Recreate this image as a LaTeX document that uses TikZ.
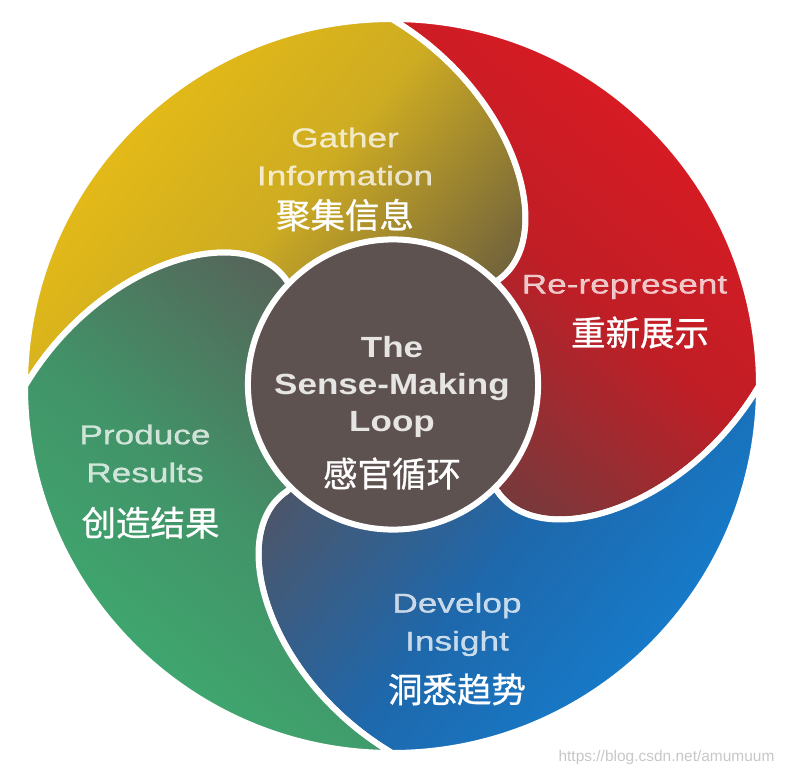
\documentclass[tikz,border=0pt]{standalone}
\usepackage{fontspec}
\setmainfont{Liberation Sans}
\newfontfamily\widefont[FakeStretch=1.3,FakeBold=0.8]{Liberation Sans}
\newfontfamily\widebold[FakeStretch=1.2]{Liberation Sans}
\newfontfamily\cjk[FakeBold=0.8]{Noto Sans CJK SC}
\usepackage{xcolor}
\usetikzlibrary{positioning}

\definecolor{ybright}{RGB}{234,190,20}
\definecolor{ymid}{RGB}{206,172,34}
\definecolor{ydark}{RGB}{105,92,62}
\definecolor{rbright}{RGB}{222,26,34}
\definecolor{rmid}{RGB}{192,30,38}
\definecolor{rdark}{RGB}{112,60,62}
\definecolor{bbright}{RGB}{20,128,210}
\definecolor{bmid}{RGB}{30,104,172}
\definecolor{bdark}{RGB}{80,84,100}
\definecolor{gbright}{RGB}{62,172,112}
\definecolor{gmid}{RGB}{66,146,104}
\definecolor{gdark}{RGB}{88,96,88}
\definecolor{loopfill}{RGB}{94,82,80}

% one swirl segment, turned by #1 degrees
\newcommand{\petal}[1]{(#1+45:130) -- (#1+45:149) .. controls (#1+41.3:222) and (#1+66.7:318) .. (#1+90:367)
  arc[start angle=#1+90, end angle=#1+180, radius=367]
  .. controls (#1+156.7:318) and (#1+131.3:222) .. (#1+135:149) -- (#1+135:130)
  arc[start angle=#1+135, end angle=#1+45, radius=130] -- cycle}

\begin{document}
\begin{tikzpicture}[x=0.01cm, y=0.01cm,
    petalline/.style={draw=white, line width=0.06cm, line join=round},
    enlabel/.style={text=white, text opacity=0.75, align=center, inner sep=0pt,
      font=\widefont\fontsize{7.7pt}{10.8pt}\selectfont},
    cnlabel/.style={text=white, inner sep=0pt, font=\cjk\fontsize{9.8pt}{11pt}\selectfont}]
    \useasboundingbox (-392,-390) rectangle (394,386);

    % Segments
    \shadedraw[petalline, top color=ybright, bottom color=ydark, middle color=ymid, shading angle=50] \petal{0};
    \shadedraw[petalline, top color=rbright, bottom color=rdark, middle color=rmid, shading angle=-40] \petal{-90};
    \shadedraw[petalline, top color=bbright, bottom color=bdark, middle color=bmid, shading angle=-130] \petal{-180};
    \shadedraw[petalline, top color=gbright, bottom color=gdark, middle color=gmid, shading angle=140] \petal{90};

    % The Sense-Making Loop
    \node[circle, draw=white, line width=0.06cm, fill=loopfill, minimum size=2.9cm, inner sep=0pt] (loop) at (1,1.5) {};
    \node[text=white, text opacity=0.85, align=center, inner sep=0pt,
      font=\widebold\bfseries\fontsize{8.3pt}{10.4pt}\selectfont] (looptext) at (0,-1) {The\\Sense-Making\\Loop};
    \node[cnlabel, below=0.19cm of looptext] (loopcn) {感官循环};

    % Labels
    \node[enlabel] (gather) at (-47,229.5) {Gather\\Information};
    \node[cnlabel, below=0.12cm of gather] (gathercn) {聚集信息};

    \node[enlabel] (rerep) at (232.5,99) {Re-represent};
    \node[cnlabel, below=0.16cm of rerep, xshift=0.155cm] (rerepcn) {重新展示};

    \node[enlabel] (produce) at (-247,-67.5) {Produce\\Results};
    \node[cnlabel, below=0.23cm of produce, xshift=0.055cm] (producecn) {创造结果};

    \node[enlabel] (develop) at (65,-238.5) {Develop\\Insight};
    \node[cnlabel, below=0.16cm of develop] (developcn) {洞悉趋势};

    % Watermark
    \node[text=black!22, inner sep=0pt, font=\fontsize{4.4pt}{5pt}\selectfont] (mark) at (274.5,-371) {https://blog.csdn.net/amumuum};
\end{tikzpicture}
\end{document}
